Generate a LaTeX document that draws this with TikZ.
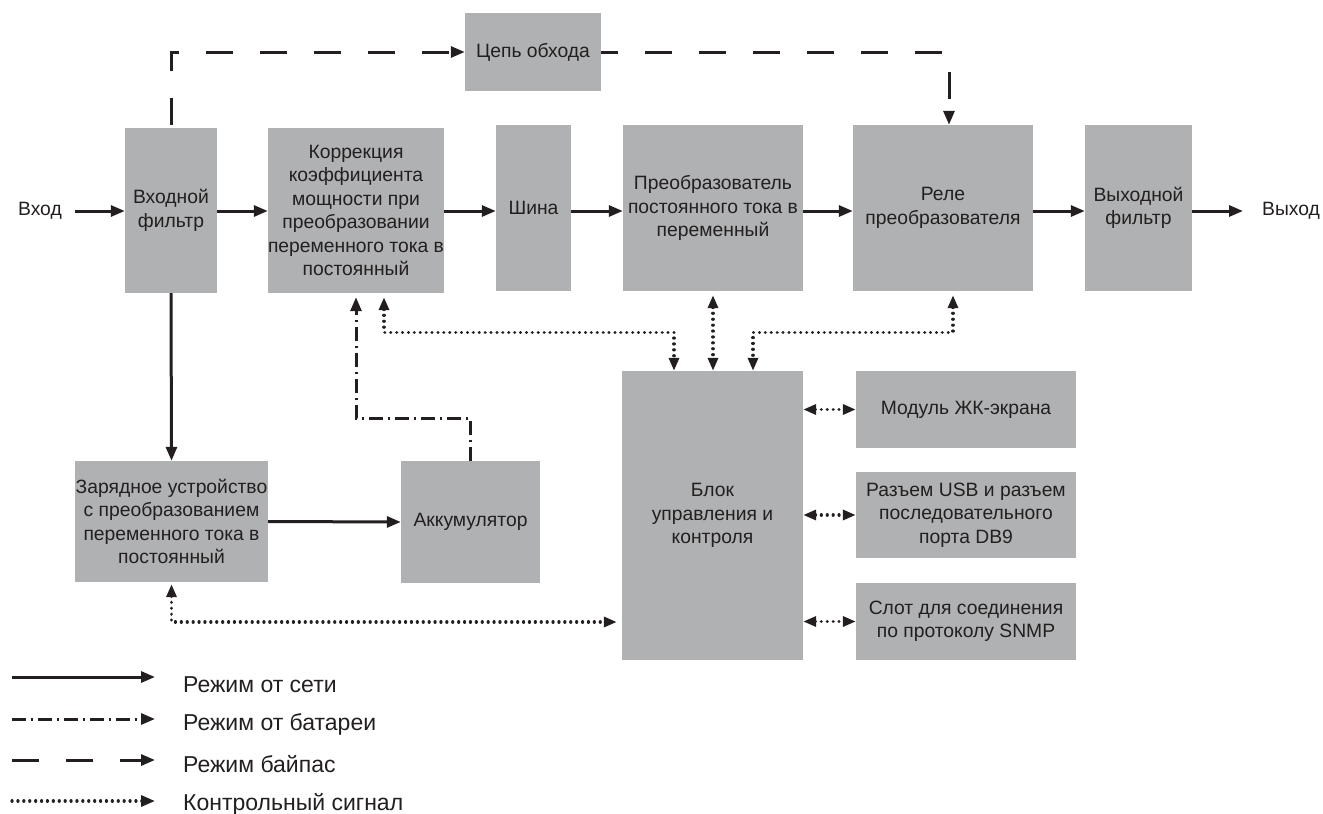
\documentclass[tikz,border=0pt]{standalone}
\usepackage{fontspec}
\setmainfont{Liberation Sans}
\usetikzlibrary{arrows.meta,calc}
\definecolor{boxgray}{RGB}{175,177,178}
\definecolor{ink}{RGB}{35,31,32}
\begin{document}
\begin{tikzpicture}[x=1pt,y=-1pt,
  box/.style={fill=boxgray,draw=none,inner sep=0pt,align=center,text=ink,
    font=\fontsize{19.3}{23.5}\selectfont},
  lbl/.style={inner sep=0pt,text=ink,font=\fontsize{19.3}{23.5}\selectfont},
  leg/.style={inner sep=0pt,anchor=west,text=ink,font=\fontsize{23}{28}\selectfont},
  tip/.style={-{Triangle[length=14pt,width=11pt]}},
  btip/.style={{Triangle[length=13pt,width=10pt]}-{Triangle[length=13pt,width=10pt]}},
  mainln/.style={draw=ink,line width=3pt},
  batln/.style={draw=ink,line width=3pt,dash pattern=on 14pt off 5pt on 2pt off 5pt},
  bypln/.style={draw=ink,line width=3pt,dash pattern=on 27pt off 27pt},
  ctrlln/.style={draw=ink,line width=3.2pt,line cap=round,dash pattern=on 0.1pt off 5.8pt}
]
\useasboundingbox (0,0) rectangle (1323,814);
\coordinate (main) at (0,211);

% boxes
\node[box,minimum width=92,minimum height=165] (inf) at (171,210.5) {Входной\\фильтр};
\node[box,minimum width=174,minimum height=165] (pfc) at (356,210.5) {Коррекция\\коэффициента\\мощности при\\преобразовании\\переменного тока в\\постоянный};
\node[box,minimum width=75,minimum height=166] (bus) at (533.5,208) {Шина};
\node[box,minimum width=180,minimum height=166] (inv) at (713,208) {Преобразователь\\постоянного тока в\\переменный};
\node[box,minimum width=180,minimum height=166] (rel) at (943,208) {Реле\\преобразователя};
\node[box,minimum width=107,minimum height=166] (outf) at (1138.5,208) {Выходной\\фильтр};
\node[box,minimum width=136,minimum height=78] (byp) at (533,52) {Цепь обхода};
\node[box,minimum width=181,minimum height=289] (ctl) at (712.5,515.5) {Блок\\управления и\\контроля};
\node[box,minimum width=220,minimum height=77] (lcd) at (966,409.5) {Модуль ЖК-экрана};
\node[box,minimum width=220,minimum height=86] (usb) at (966,515) {Разъем USB и разъем\\последовательного\\порта DB9};
\node[box,minimum width=220,minimum height=77] (snmp) at (966,621.5) {Слот для соединения\\по протоколу SNMP};
\node[box,minimum width=193,minimum height=121] (chg) at (171.5,521.5) {Зарядное устройство\\с преобразованием\\переменного тока в\\постоянный};
\node[box,minimum width=139,minimum height=122] (bat) at (470.5,522) {Аккумулятор};

\node[lbl,anchor=east] (vin) at (62,211) {Вход};
\node[lbl,anchor=west] (vout) at (1262,211) {Выход};

% main path
\draw[mainln,tip] ([xshift=13pt]vin.east) -- (inf.west |- main);
\draw[mainln,tip] (inf.east |- main) -- (pfc.west |- main);
\draw[mainln,tip] (pfc.east |- main) -- (bus.west |- main);
\draw[mainln,tip] (bus.east |- main) -- (inv.west |- main);
\draw[mainln,tip] (inv.east |- main) -- (rel.west |- main);
\draw[mainln,tip] (rel.east |- main) -- (outf.west |- main);
\draw[mainln,tip] (outf.east |- main) -- ([xshift=-19pt]vout.west);
\draw[mainln,tip] (inf.south) -- (chg.north);
\draw[mainln,tip] (chg.east) -- (bat.west);

% bypass
\draw[bypln,tip] ([yshift=3pt]inf.north) |- (byp.west);
\draw[bypln,tip,dash phase=10pt] (byp.east) -| ([xshift=6pt]rel.north);

% battery
\draw[batln,tip] (bat.north) -- ++(0,-42) -| ([yshift=-4pt]pfc.south);

% control
\draw[ctrlln,btip] ([xshift=28pt,yshift=-4pt]pfc.south) -- ++(0,35) -| ([xshift=-38.5pt]ctl.north);
\draw[ctrlln,btip] ([yshift=-4pt]inv.south) -- (inv.south |- ctl.north);
\draw[ctrlln,btip] ([xshift=10pt,yshift=-4pt]rel.south) -- ++(0,37) -| ([xshift=40.5pt]ctl.north);
\draw[ctrlln,btip] ([yshift=-2pt]chg.south) |- ($(ctl.west)+(-5,106.5)$);
\draw[ctrlln,btip] (ctl.east |- lcd.west) -- (lcd.west);
\draw[ctrlln,btip] (ctl.east |- usb.west) -- (usb.west);
\draw[ctrlln,btip] (ctl.east |- snmp.west) -- (snmp.west);

% legend
\coordinate (l1a) at (12,677); \coordinate (l1b) at (155,677);
\coordinate (l2a) at (12,719); \coordinate (l2b) at (155,719);
\coordinate (l3a) at (12,760); \coordinate (l3b) at (155,760);
\coordinate (l4a) at (12,801); \coordinate (l4b) at (155,801);
\draw[mainln,tip] (l1a) -- (l1b);
\draw[batln,tip] (l2a) -- (l2b);
\draw[bypln,tip] (l3a) -- (l3b);
\draw[ctrlln,tip] (l4a) -- (l4b);
\node[leg] (t1) at (183,685) {Режим от сети};
\node[leg] (t2) at (183,724) {Режим от батареи};
\node[leg] (t3) at (183,764) {Режим байпас};
\node[leg] (t4) at (183,804) {Контрольный сигнал};
\end{tikzpicture}
\end{document}
